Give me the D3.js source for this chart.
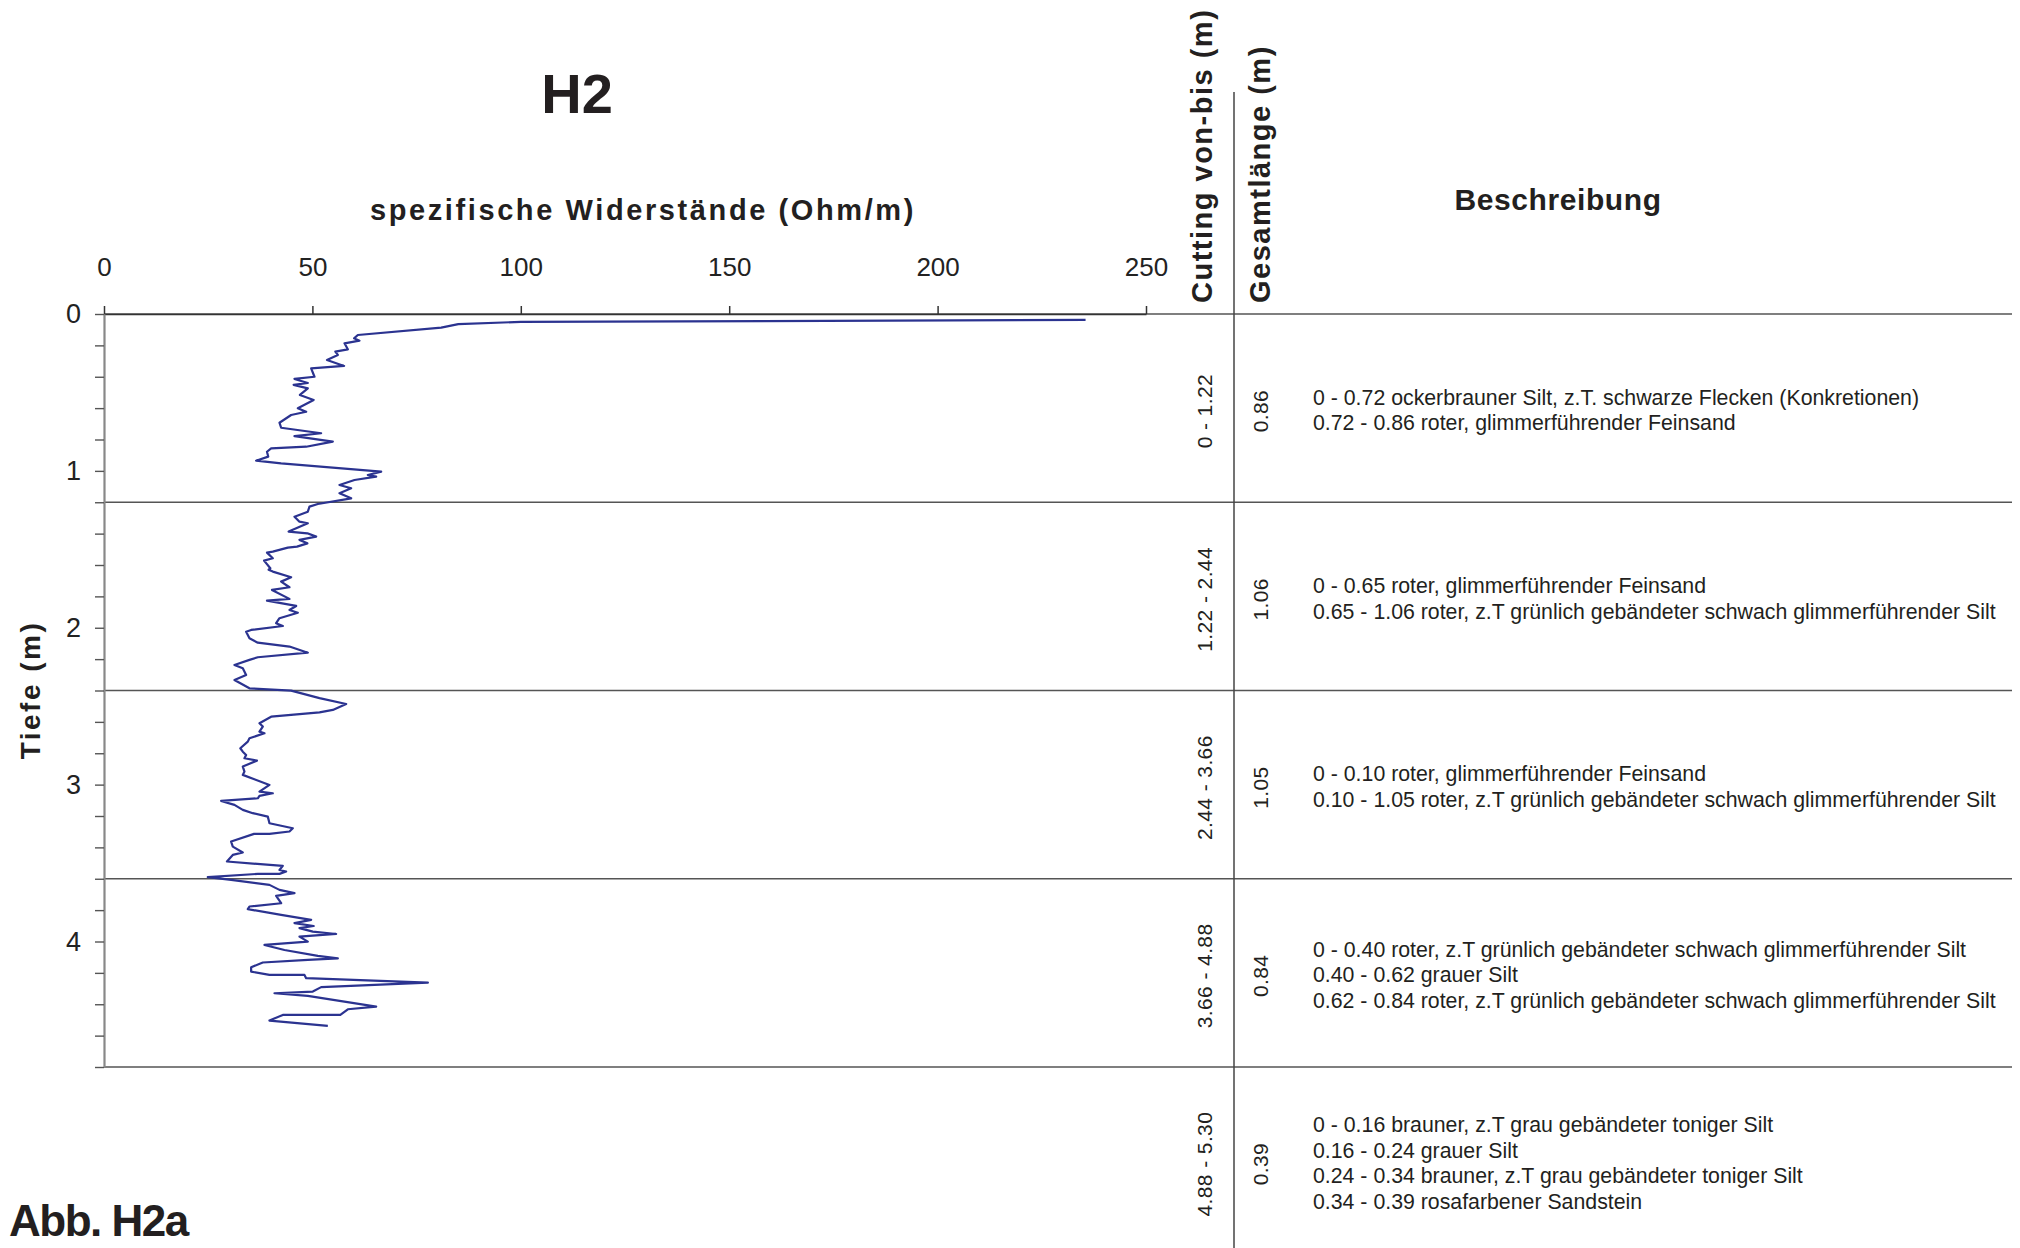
<!DOCTYPE html>
<html>
<head>
<meta charset="utf-8">
<script src="https://cdn.jsdelivr.net/npm/d3@7"></script>
<style>
  html, body { margin: 0; padding: 0; background: #fff; }
  svg { display: block; }
  text { font-family: "Liberation Sans", Arial, sans-serif; }
</style>
</head>
<body>
<script>
// ---------- data ----------
const resistivity = [235.5,100,85,80.9,60.9,60.0,61.3,57.7,58.5,55.5,56.1,53.5,57.6,49.7,50.5,45.7,48.9,45.5,48.9,47.0,50.3,46.5,48.5,44.9,42.1,42.5,52.1,45.7,54.9,48.5,40.1,39.1,39.4,36.5,42.5,66.5,63.3,65.3,60.1,56.5,59.3,56.5,59.3,51.3,49.3,48.9,45.7,46.9,48.9,44.3,48.8,50.9,46.9,48.8,46.3,44.1,40.5,39.1,40.5,38.4,39.9,39.5,40.5,44.9,42.5,44.5,40.3,44.5,39.1,46.1,44.5,46.5,42.1,41.3,42.9,35.3,34.1,34.9,36.9,44.5,48.9,36.9,34.9,31.3,33.3,34.1,31.3,34.9,44.9,51.7,58.1,54.9,51.7,40.1,37.3,38.1,37.3,38.5,34.9,34.5,32.7,33.3,34.1,33.7,36.7,33.3,33.7,33.3,39.7,37.3,40.5,37.3,36.9,28.1,31.3,33.3,35.7,39.3,39.7,45.3,44.5,39.7,36.0,30.5,30.9,33.3,30.9,29.5,42.9,42.1,43.7,42.1,36.9,24.9,30.5,39.7,42.1,45.7,41.3,42.5,34.9,34.5,42.5,49.7,45.7,50.3,46.9,50.1,55.7,46.9,48.9,38.5,43.3,51.3,56.1,48.9,38.1,35.3,35.3,39.7,48.1,48.5,77.7,52.1,50.1,40.9,48.9,65.3,58.5,56.7,42.9,39.7,53.7];
const depth = [0.038,0.050,0.065,0.087,0.134,0.155,0.170,0.187,0.225,0.240,0.261,0.293,0.331,0.346,0.400,0.414,0.440,0.452,0.474,0.516,0.548,0.601,0.623,0.644,0.693,0.725,0.760,0.778,0.814,0.846,0.856,0.878,0.909,0.935,0.952,1.005,1.026,1.037,1.058,1.090,1.111,1.143,1.175,1.211,1.228,1.260,1.292,1.324,1.334,1.387,1.398,1.419,1.440,1.462,1.483,1.489,1.515,1.521,1.557,1.572,1.621,1.630,1.642,1.678,1.706,1.742,1.759,1.816,1.827,1.861,1.887,1.904,1.939,1.971,1.989,2.014,2.025,2.067,2.095,2.120,2.159,2.188,2.205,2.237,2.258,2.301,2.333,2.386,2.401,2.449,2.486,2.524,2.539,2.567,2.609,2.630,2.662,2.673,2.704,2.726,2.768,2.790,2.811,2.832,2.847,2.885,2.917,2.938,3.002,3.045,3.055,3.072,3.087,3.104,3.129,3.161,3.182,3.204,3.246,3.278,3.299,3.314,3.314,3.363,3.395,3.433,3.448,3.490,3.518,3.544,3.554,3.569,3.569,3.590,3.607,3.639,3.671,3.692,3.709,3.756,3.777,3.794,3.830,3.862,3.883,3.901,3.915,3.937,3.952,3.969,4.001,4.022,4.054,4.092,4.107,4.117,4.134,4.164,4.192,4.213,4.213,4.234,4.262,4.291,4.319,4.330,4.347,4.415,4.432,4.468,4.468,4.504,4.538];

const xTicks = [0, 50, 100, 150, 200, 250];
const yTickLabels = [0, 1, 2, 3, 4];
const rowEdges = [0, 1.2, 2.4, 3.6, 4.8, 6.0];
const cuttingLabels = ["0 - 1.22", "1.22 - 2.44", "2.44 - 3.66", "3.66 - 4.88", "4.88 - 5.30"];
const totalLengths = ["0.86", "1.06", "1.05", "0.84", "0.39"];
const descriptions = [
  ["0 - 0.72 ockerbrauner Silt, z.T. schwarze Flecken (Konkretionen)",
   "0.72 - 0.86 roter, glimmerführender Feinsand"],
  ["0 - 0.65 roter, glimmerführender Feinsand",
   "0.65 - 1.06 roter, z.T grünlich gebändeter schwach glimmerführender Silt"],
  ["0 - 0.10 roter, glimmerführender Feinsand",
   "0.10 - 1.05 roter, z.T grünlich gebändeter schwach glimmerführender Silt"],
  ["0 - 0.40 roter, z.T grünlich gebändeter schwach glimmerführender Silt",
   "0.40 - 0.62 grauer Silt",
   "0.62 - 0.84 roter, z.T grünlich gebändeter schwach glimmerführender Silt"],
  ["0 - 0.16 brauner, z.T grau gebändeter toniger Silt",
   "0.16 - 0.24 grauer Silt",
   "0.24 - 0.34 brauner, z.T grau gebändeter toniger Silt",
   "0.34 - 0.39 rosafarbener Sandstein"]
];

// ---------- layout ----------
const W = 2020, H = 1248;
const svg = d3.select("body").append("svg").attr("width", W).attr("height", H);
svg.append("rect").attr("width", W).attr("height", H).attr("fill", "#fff");

const x = d3.scaleLinear().domain([0, 250]).range([104, 1146]);
const y = d3.scaleLinear().domain([0, 4.8]).range([314, 1067]);
const tableRight = 2012, colDivX = 1234;

// table row lines
svg.append("g").selectAll("line").data(rowEdges.slice(0, 5)).join("line")
  .attr("x1", 104).attr("x2", tableRight)
  .attr("y1", d => y(d)).attr("y2", d => y(d))
  .attr("stroke", "#555").attr("stroke-width", 1.6);

// column divider
svg.append("line").attr("x1", colDivX).attr("x2", colDivX)
  .attr("y1", 92).attr("y2", H).attr("stroke", "#444").attr("stroke-width", 1.5);

// top x axis
const gx = svg.append("g").attr("transform", `translate(0,${y(0)})`)
  .call(d3.axisTop(x).tickValues(xTicks).tickSize(8).tickSizeOuter(0).tickPadding(30));
gx.select(".domain").attr("stroke", "#333").attr("stroke-width", 1.6);
gx.selectAll(".tick line").attr("stroke", "#333").attr("stroke-width", 1.5);
gx.selectAll(".tick text").attr("font-size", 26).attr("fill", "#222")
  .attr("font-family", "Liberation Sans, Arial, sans-serif");

// left y axis with minor ticks every 0.2
const yTickVals = d3.range(0, 25).map(i => +(i * 0.2).toFixed(1));
const gy = svg.append("g").attr("transform", `translate(${x(0)},0)`)
  .call(d3.axisLeft(y).tickValues(yTickVals).tickSize(9).tickSizeOuter(0).tickPadding(14)
    .tickFormat(d => yTickLabels.includes(d) ? d3.format("d")(d) : ""));
gy.select(".domain").attr("stroke", "#888").attr("stroke-width", 2.2);
gy.selectAll(".tick line").attr("stroke", "#555").attr("stroke-width", 1.4);
gy.selectAll(".tick text").attr("font-size", 27).attr("fill", "#222")
  .attr("font-family", "Liberation Sans, Arial, sans-serif");

// data line
const pts = depth.map((d, i) => [resistivity[i], d]);
svg.append("path").datum(pts)
  .attr("fill", "none").attr("stroke", "#2b3390").attr("stroke-width", 2.2)
  .attr("stroke-linejoin", "round")
  .attr("d", d3.line().x(d => x(d[0])).y(d => y(d[1])));

// titles
svg.append("text").attr("x", 577).attr("y", 113).attr("text-anchor", "middle")
  .attr("font-size", 56).attr("font-weight", "bold").attr("fill", "#231f20").text("H2");
svg.append("text").attr("x", 643).attr("y", 220).attr("text-anchor", "middle")
  .attr("font-size", 29).attr("font-weight", "bold").attr("letter-spacing", 2.6)
  .attr("fill", "#231f20").text("spezifische Widerstände (Ohm/m)");
svg.append("text").attr("transform", "translate(40,690) rotate(-90)")
  .attr("text-anchor", "middle").attr("font-size", 28).attr("font-weight", "bold")
  .attr("letter-spacing", 2.5).attr("fill", "#231f20").text("Tiefe (m)");

// column headers
svg.append("text").attr("transform", "translate(1212,303) rotate(-90)")
  .attr("font-size", 29).attr("font-weight", "bold").attr("letter-spacing", 1.5)
  .attr("fill", "#231f20").text("Cutting von-bis (m)");
svg.append("text").attr("transform", "translate(1270,303) rotate(-90)")
  .attr("font-size", 29).attr("font-weight", "bold").attr("letter-spacing", 1.5)
  .attr("fill", "#231f20").text("Gesamtlänge (m)");
svg.append("text").attr("x", 1558).attr("y", 210).attr("text-anchor", "middle")
  .attr("font-size", 30).attr("font-weight", "bold").attr("letter-spacing", 0.6)
  .attr("fill", "#231f20").text("Beschreibung");

// table cells
const rows = cuttingLabels.map((c, i) => ({
  cut: c, len: totalLengths[i], desc: descriptions[i],
  mid: (y(rowEdges[i]) + y(rowEdges[i + 1])) / 2 + 2
}));
const rowG = svg.append("g").selectAll("g").data(rows).join("g");
rowG.append("text")
  .attr("transform", d => `translate(1205,${d.mid + 1}) rotate(-90)`)
  .attr("text-anchor", "middle").attr("dy", "0.35em")
  .attr("font-size", 21).attr("letter-spacing", 0.4).attr("fill", "#231f20")
  .text(d => d.cut);
rowG.append("text")
  .attr("transform", d => `translate(1261,${d.mid + 1}) rotate(-90)`)
  .attr("text-anchor", "middle").attr("dy", "0.35em")
  .attr("font-size", 21).attr("letter-spacing", 0.4).attr("fill", "#231f20")
  .text(d => d.len);
const lineGap = 25.5;
rowG.each(function (d) {
  const g = d3.select(this);
  const start = d.mid - (d.desc.length - 1) * lineGap / 2;
  g.selectAll("text.desc").data(d.desc).join("text").attr("class", "desc")
    .attr("x", 1313).attr("y", (t, j) => start + j * lineGap).attr("dy", "0.35em")
    .attr("font-size", 21.3).attr("fill", "#231f20").text(t => t);
});

// figure label
svg.append("text").attr("x", 9).attr("y", 1236)
  .attr("font-family", "Open Sans, Liberation Sans, sans-serif")
  .attr("font-size", 44).attr("font-weight", 600).attr("letter-spacing", -1.5)
  .attr("fill", "#231f20").text("Abb. H2a");
</script>
</body>
</html>
